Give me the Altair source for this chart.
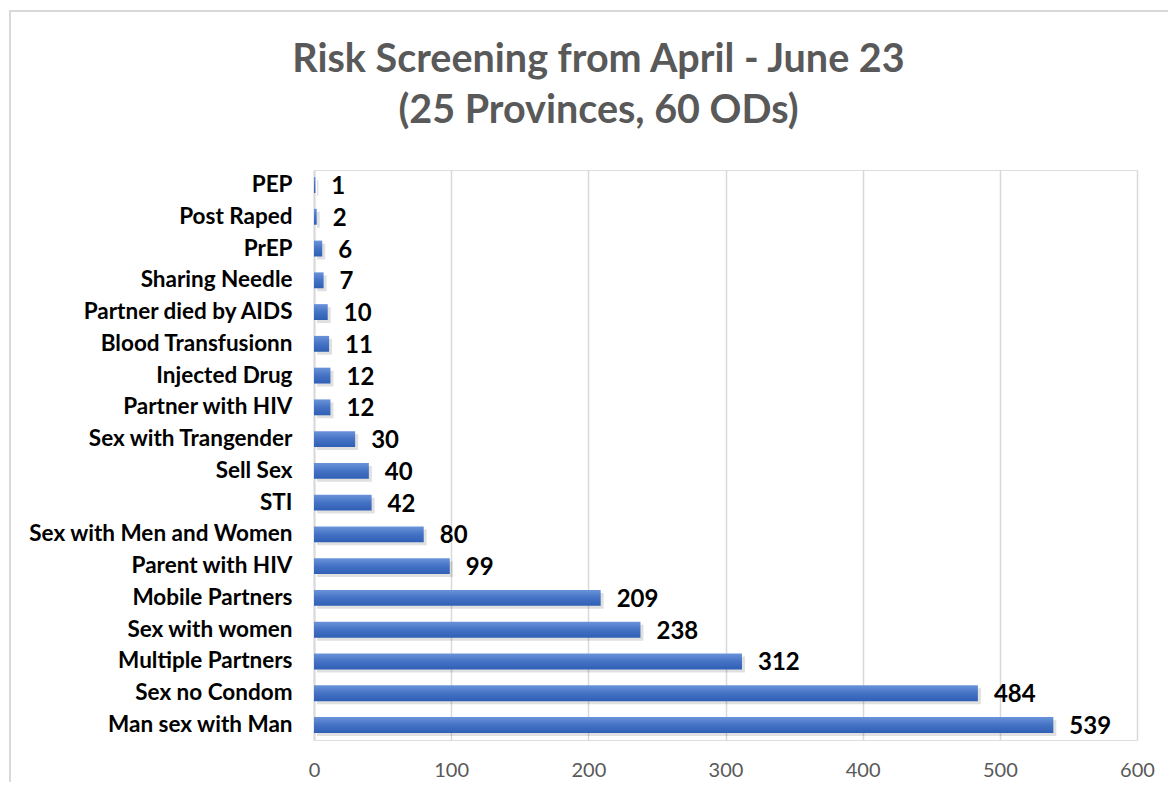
import altair as alt
import pandas as pd

categories = ["PEP", "Post Raped", "PrEP", "Sharing Needle", "Partner died by AIDS",
              "Blood Transfusionn", "Injected Drug", "Partner with HIV", "Sex with Trangender",
              "Sell Sex", "STI", "Sex with Men and Women", "Parent with HIV", "Mobile Partners",
              "Sex with women", "Multiple Partners", "Sex no Condom", "Man sex with Man"]
values = [1, 2, 6, 7, 10, 11, 12, 12, 30, 40, 42, 80, 99, 209, 238, 312, 484, 539]
x_ticks = [0, 100, 200, 300, 400, 500, 600]

df = pd.DataFrame({"category": categories, "value": values})

FONT = "Lato"
W, H = 823, 570

y_enc = alt.Y("category:N", sort=categories, title=None,
              scale=alt.Scale(paddingInner=0.5, paddingOuter=0.223),
              axis=alt.Axis(labelFont=FONT, labelFontSize=22.5, labelFontWeight="bold",
                            labelColor="#000000", labelPadding=22, ticks=False,
                            domain=True, domainColor="#d9d9d9", domainWidth=2,
                            labelLimit=400))
x_enc = alt.X("value:Q", title=None,
              scale=alt.Scale(domain=[0, 600], nice=False),
              axis=alt.Axis(values=x_ticks, labelFont=FONT, labelFontSize=20,
                            labelColor="#595959", ticks=False, domain=False,
                            labelFlush=False, labelOverlap=False,
                            grid=True, gridColor="#d9d9d9", gridWidth=1.5,
                            labelPadding=20))

gradient = alt.Gradient(gradient="linear", x1=0, x2=0, y1=0, y2=1,
                        stops=[alt.GradientStop(color="#6a93da", offset=0),
                               alt.GradientStop(color="#4472c4", offset=0.5),
                               alt.GradientStop(color="#2f5fb5", offset=1)])

shadow = alt.Chart(df).mark_bar(color="#000000", opacity=0.12, yOffset=3, xOffset=3).encode(
    y=y_enc, x=x_enc)

bars = alt.Chart(df).mark_bar(color=gradient).encode(y=y_enc, x=x_enc)

labels = alt.Chart(df).mark_text(align="left", baseline="middle", dx=16, dy=2,
                                 font=FONT, fontSize=24, fontWeight="bold",
                                 color="#000000").encode(
    y=y_enc, x=x_enc, text="value:Q")

border = alt.Chart(df).mark_rect(fill=None, stroke="#d9d9d9", strokeWidth=2).encode(
    x=alt.value(-304), x2=alt.value(W + 60), y=alt.value(-159), y2=alt.value(H + 60))

chart = alt.layer(border, shadow, bars, labels).properties(
    width=W, height=H,
    padding={"left": 306, "top": 162, "right": 31, "bottom": 42},
    autosize=alt.AutoSizeParams(type="none"),
    title=alt.TitleParams(
        text=["Risk Screening from April - June 23", "(25 Provinces, 60 ODs)"],
        font=FONT, fontSize=39.5, fontWeight="bold", color="#595959",
        anchor="middle", dx=-127, offset=-152, lineHeight=51, baseline="alphabetic",
        frame="group"),
).configure_view(stroke=None).configure(background="#ffffff")

chart.save("out.html", embed_options={"renderer": "svg", "actions": False})
